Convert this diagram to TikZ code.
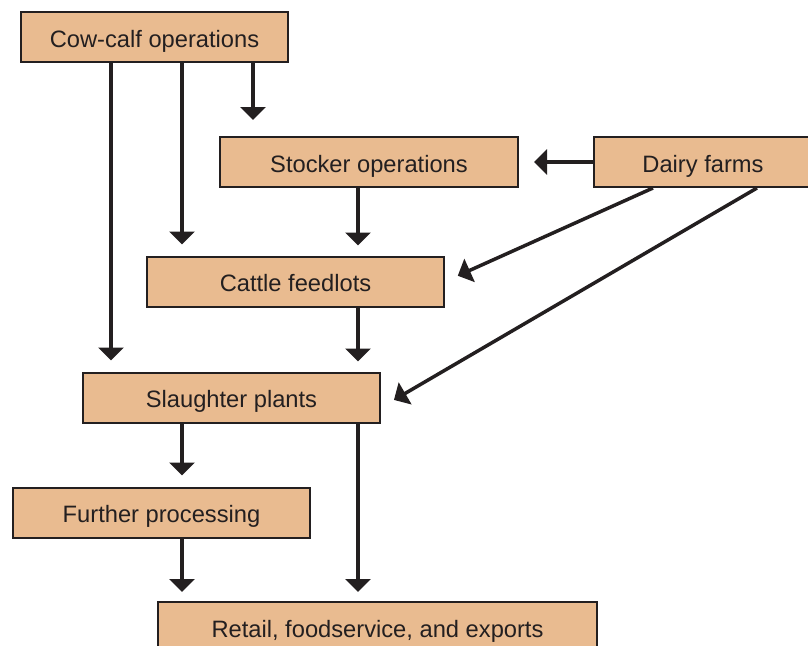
\documentclass[tikz,border=0pt]{standalone}
\usepackage{fontspec}
\setmainfont{Liberation Sans}
\usepackage{tikz}
\usetikzlibrary{positioning, arrows.meta}
\definecolor{boxFill}{RGB}{233, 187, 144}
\definecolor{lineColor}{RGB}{35, 31, 32}
\tikzset{
    supply_box/.style={
        draw=lineColor,
        line width=2pt,
        fill=boxFill,
        text=lineColor,
        inner sep=0pt,
        minimum height=50pt,
        text height=20pt,
        text depth=0pt,
        font=\fontsize{23.7}{28}\selectfont
    },
    supply_edge/.style={
        -{Triangle[length=13pt, width=25pt]},
        line width=3.5pt,
        draw=lineColor
    }
}

\begin{document}
\begin{tikzpicture}[x=1pt, y=-1pt]
    \useasboundingbox (0,0) rectangle (808,645);
    \clip (0,0) rectangle (808,645);

    \node[supply_box, minimum width=267pt] (cow) at (154.5,37) {Cow-calf operations};
    \node[supply_box, minimum width=298pt] (stocker) at (369,162) {Stocker operations};
    \node[supply_box, minimum width=218pt] (dairy) at (703,162) {Dairy farms};
    \node[supply_box, minimum width=297pt] (feedlot) at (295.5,281.5) {Cattle feedlots};
    \node[supply_box, minimum width=297pt] (slaughter) at (231.5,397.5) {Slaughter plants};
    \node[supply_box, minimum width=297pt] (further) at (161.5,512.5) {Further processing};
    \node[supply_box, minimum width=439pt] (retail) at (377.5,627) {Retail, foodservice, and exports};

    % from the cow-calf operations
    \draw[supply_edge, shorten >=11pt] (cow.south -| 111,0) -- (slaughter.north -| 111,0);
    \draw[supply_edge, shorten >=11pt] (cow.south -| 182,0) -- (feedlot.north -| 182,0);
    \draw[supply_edge, shorten >=16pt] (cow.south -| 253,0) -- (stocker.north -| 253,0);

    % down the chain
    \draw[supply_edge, shorten >=10pt] (stocker.south -| 358,0) -- (feedlot.north -| 358,0);
    \draw[supply_edge, shorten >=10pt] (feedlot.south -| 358,0) -- (slaughter.north -| 358,0);
    \draw[supply_edge, shorten >=11pt] (slaughter.south -| 182,0) -- (further.north -| 182,0);
    \draw[supply_edge, shorten >=9pt] (slaughter.south -| 358,0) -- (retail.north -| 358,0);
    \draw[supply_edge, shorten >=9pt] (further.south -| 182,0) -- (retail.north -| 182,0);

    % from the dairy farms
    \draw[supply_edge, shorten >=15pt] (dairy.west) -- (stocker.east);
    \draw[supply_edge, shorten >=14pt] ([xshift=60pt]dairy.south west) -- (feedlot.east);
    \draw[supply_edge, shorten >=15pt] ([xshift=164pt]dairy.south west) -- ([yshift=-10pt]slaughter.east);
\end{tikzpicture}
\end{document}
